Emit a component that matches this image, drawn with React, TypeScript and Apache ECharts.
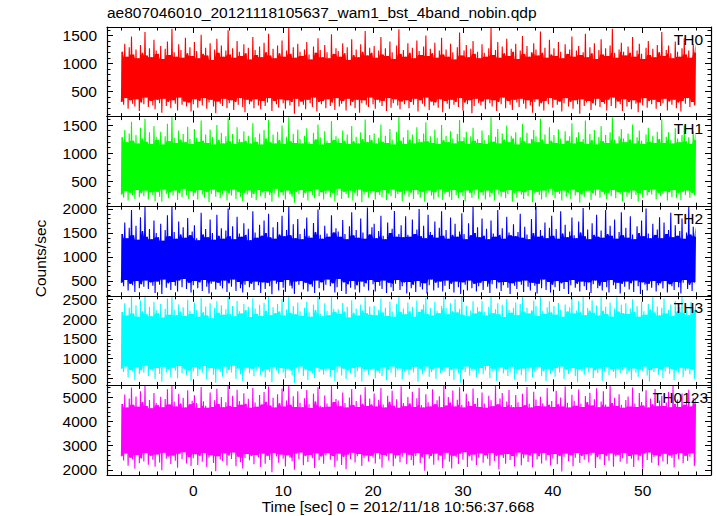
import React, { useEffect, useRef } from "react";
import * as echarts from "echarts";

// Light curves sampled every 0.125 s starting at t = -8 s
const T0 = -8;
const DT = 0.125;

const th0 = [
  310,1210,260,1350,380,1120,190,1290,340,1480,280,1160,230,1250,360,1090,150,1330,300,1190,270,1560,390,1140,220,1270,330,1110,250,1420,180,1230,
  350,1170,290,1310,120,1080,370,1260,240,1390,310,1150,200,1620,340,1200,280,1120,160,1340,390,1240,260,1100,320,1460,230,1180,300,1290,140,1130,
  270,1380,360,1220,210,1090,330,1510,250,1170,380,1280,190,1140,300,1360,350,1060,230,1250,110,1440,320,1190,280,1320,240,1120,370,1230,200,1590,
  290,1160,340,1270,170,1100,310,1400,260,1210,380,1130,220,1340,130,1180,350,1280,270,1070,320,1470,200,1240,360,1150,250,1300,180,1110,330,1370,
  240,1200,300,1530,380,1140,150,1260,330,1090,270,1320,210,1180,360,1410,290,1120,190,1230,340,1640,250,1170,310,1290,100,1100,370,1350,230,1210,
  320,1130,260,1250,180,1380,350,1160,290,1070,220,1300,390,1190,140,1450,310,1240,270,1110,330,1330,200,1200,360,1090,240,1520,300,1170,170,1270,
  380,1220,230,1120,280,1360,330,1180,160,1290,370,1060,250,1430,310,1150,200,1250,350,1110,120,1340,290,1210,340,1580,260,1140,220,1280,390,1190,
  270,1310,190,1100,350,1230,300,1470,240,1160,330,1270,150,1130,380,1390,210,1200,290,1080,360,1320,250,1610,180,1170,320,1240,270,1120,340,1360,
  200,1190,310,1280,260,1090,370,1410,140,1220,340,1150,280,1300,230,1500,390,1130,170,1260,320,1180,250,1370,300,1100,210,1230,360,1460,130,1160,
  330,1250,280,1120,190,1350,350,1200,260,1070,310,1290,220,1550,380,1140,160,1230,300,1330,270,1110,340,1260,110,1400,240,1170,370,1210,290,1090,
  250,1340,320,1190,180,1120,360,1270,290,1630,230,1150,340,1240,150,1380,310,1100,270,1300,390,1180,200,1440,330,1130,260,1260,170,1210,350,1350,
  300,1080,220,1230,370,1490,280,1170,190,1310,340,1120,250,1200,120,1360,310,1250,360,1140,230,1570,290,1190,160,1280,330,1100,270,1420,380,1160,
  210,1270,350,1130,260,1380,320,1210,140,1090,290,1340,380,1170,230,1250,310,1480,190,1120,340,1230,270,1310,100,1150,360,1200,240,1530,300,1110,
  330,1290,170,1180,290,1360,250,1080,370,1240,220,1430,310,1160,280,1270,160,1130,350,1320,240,1620,390,1190,200,1100,320,1250,270,1370,150,1210,
  360,1140,230,1300,310,1190,180,1470,340,1120,280,1230,130,1350,300,1170,250,1080,380,1280,210,1400,330,1150,270,1260,350,1110,190,1330,310,1200,
  240,1560,290,1130,370,1240,160,1320,320,1180,260,1090,350,1390,200,1210,300,1120,140,1270,330,1450,280,1160,380,1230,220,1100,310,1340,250,1190
];

const th1 = [
  260,1280,200,1410,320,1190,150,1350,290,1560,240,1220,180,1320,340,1170,210,1450,280,1260,230,1610,330,1200,170,1370,300,1160,250,1480,140,1290,
  310,1230,220,1380,130,1150,350,1300,270,1520,190,1210,300,1650,240,1270,330,1180,160,1400,280,1240,210,1340,360,1190,250,1470,180,1250,320,1160,
  230,1430,290,1270,170,1200,340,1580,260,1220,200,1330,310,1180,120,1420,270,1290,350,1150,220,1500,300,1230,190,1360,260,1170,330,1300,150,1620,
  280,1210,240,1340,350,1160,180,1460,310,1250,220,1190,140,1390,290,1220,260,1310,330,1170,200,1530,270,1280,160,1200,340,1350,230,1150,300,1410,
  190,1260,320,1590,250,1190,130,1330,280,1170,360,1380,210,1230,300,1490,240,1160,170,1290,330,1640,260,1210,220,1340,110,1180,310,1420,270,1250,
  340,1170,200,1310,280,1440,150,1200,320,1160,250,1360,190,1240,350,1510,230,1280,300,1150,170,1390,270,1220,330,1180,210,1570,290,1230,140,1300,
  240,1260,360,1180,180,1400,310,1220,270,1330,200,1160,330,1480,150,1210,290,1290,230,1170,350,1370,120,1250,260,1600,310,1190,200,1320,280,1230,
  320,1350,170,1170,300,1270,250,1510,210,1200,340,1310,160,1180,280,1430,230,1240,350,1150,190,1380,270,1650,310,1220,140,1280,260,1160,330,1410,
  220,1240,290,1330,180,1170,340,1460,260,1250,200,1190,310,1350,130,1550,280,1210,330,1300,240,1180,170,1420,300,1270,210,1160,350,1500,160,1230,
  270,1310,310,1190,220,1390,160,1260,340,1170,250,1340,190,1590,300,1210,230,1280,140,1380,330,1160,280,1300,200,1450,260,1220,350,1250,180,1180,
  300,1400,240,1230,170,1160,330,1320,210,1640,280,1200,150,1290,350,1430,260,1170,220,1350,310,1240,190,1490,270,1190,340,1310,130,1260,290,1370,
  200,1150,320,1280,260,1520,180,1210,300,1360,230,1170,340,1250,120,1410,280,1300,310,1190,250,1610,170,1240,330,1330,210,1160,290,1460,360,1220,
  250,1320,190,1180,310,1420,270,1260,150,1160,330,1390,220,1220,290,1300,180,1530,350,1170,240,1280,300,1370,110,1200,260,1250,210,1580,320,1160,
  330,1340,160,1230,280,1410,240,1150,350,1290,200,1480,310,1210,260,1320,170,1180,290,1370,230,1640,340,1240,190,1170,300,1300,270,1430,140,1260,
  310,1190,220,1350,290,1240,180,1510,330,1170,250,1280,130,1400,280,1220,200,1160,340,1330,240,1450,300,1200,260,1310,350,1180,170,1380,290,1250,
  230,1600,270,1180,320,1290,150,1370,300,1230,210,1170,340,1440,190,1260,280,1190,160,1320,310,1490,250,1210,330,1280,200,1160,290,1390,240,1230
];

const th2 = [
  460,1480,390,1720,520,1390,300,1610,440,1980,410,1450,270,1650,500,1360,350,1830,430,1540,380,2040,510,1420,330,1580,470,1370,400,1760,250,1500,
  490,1410,420,1690,230,1340,530,1560,360,1870,450,1430,310,2050,480,1520,400,1380,280,1740,510,1470,370,1620,540,1400,330,1810,460,1450,260,1530,
  410,1660,500,1390,350,1350,470,1920,290,1470,520,1580,380,1410,240,1780,440,1500,490,1360,320,1880,460,1440,400,1600,340,1380,510,1550,270,2010,
  450,1430,380,1640,530,1370,290,1840,480,1490,350,1420,260,1700,420,1460,500,1590,370,1350,440,1950,310,1510,490,1400,410,1670,250,1440,470,1760,
  330,1500,460,1900,390,1410,220,1620,510,1380,440,1730,300,1470,480,1860,360,1430,270,1560,520,2060,400,1450,340,1680,230,1390,490,1790,420,1480,
  500,1370,320,1590,460,1820,280,1440,430,1400,380,1710,250,1520,510,1990,350,1460,470,1380,300,1650,420,1490,530,1420,390,1870,450,1510,260,1600,
  370,1530,540,1420,290,1770,470,1480,230,1370,430,1640,360,1930,500,1450,320,1560,410,1400,260,1800,490,1510,380,1380,450,2030,300,1470,520,1620,
  430,1690,280,1390,480,1540,400,1860,330,1440,510,1370,250,1720,460,1500,370,1590,290,1960,440,1420,520,1480,310,1660,390,1410,470,1850,240,1460,
  480,1420,350,1780,420,1480,270,1570,500,2000,380,1430,320,1650,450,1390,240,1880,410,1520,530,1460,300,1740,460,1400,360,1610,490,1950,280,1440,
  400,1560,510,1380,330,1820,440,1460,260,1690,490,1420,370,1530,230,1910,470,1480,420,1370,300,1700,510,1450,350,2040,440,1500,280,1620,390,1410,
  460,1800,310,1440,500,1590,380,1370,250,1760,430,1490,520,1420,340,1980,470,1460,290,1600,410,1380,480,1840,360,1510,230,1450,450,1680,400,1430,
  330,1520,490,1900,420,1400,270,1630,510,1470,380,1370,300,1790,460,1500,400,2050,240,1420,440,1560,350,1440,530,1720,310,1390,480,1610,260,1860,
  420,1440,370,1580,500,1380,290,1950,450,1490,330,1670,480,1410,230,1530,410,1820,520,1450,360,1390,440,1740,280,1510,490,2020,390,1430,310,1570,
  470,1370,250,1700,430,1460,510,1880,350,1420,400,1550,300,1400,480,1980,370,1480,260,1650,520,1440,410,1780,330,1380,460,1520,240,1930,440,1450,
  380,1610,490,1400,320,1850,450,1470,270,1370,510,1640,390,1500,230,1760,470,1430,420,2010,300,1490,440,1390,360,1690,500,1460,280,1570,410,1830,
  450,1390,340,1720,500,1480,260,1560,430,1920,390,1410,310,1660,480,1440,370,1540,240,1800,460,1380,520,1510,330,2040,420,1470,290,1630,470,1420
];

const th3 = [
  740,2180,660,2400,800,2090,520,2290,710,2560,680,2140,450,2350,780,2060,600,2470,700,2200,640,2590,820,2120,560,2310,730,2070,690,2430,480,2230,
  760,2150,610,2380,410,2040,790,2260,650,2520,720,2110,530,2580,770,2240,690,2100,500,2370,810,2190,630,2300,740,2080,580,2490,700,2210,440,2130,
  670,2420,780,2230,560,2060,720,2540,640,2170,810,2320,470,2090,700,2400,760,2020,590,2280,390,2450,740,2160,660,2350,540,2110,800,2250,620,2570,
  710,2120,650,2330,820,2070,480,2460,750,2200,600,2140,430,2390,690,2230,770,2310,630,2050,740,2530,550,2270,700,2130,800,2360,580,2080,680,2410,
  520,2210,730,2580,660,2100,400,2300,790,2150,700,2380,610,2190,760,2500,650,2090,500,2240,740,2590,690,2160,580,2330,380,2120,770,2420,640,2200,
  800,2080,560,2290,720,2440,460,2170,690,2060,620,2360,510,2230,770,2550,660,2140,730,2070,590,2400,680,2210,750,2100,540,2570,710,2260,430,2180,
  650,2250,800,2130,570,2410,740,2190,480,2310,700,2040,620,2480,760,2160,530,2270,680,2090,790,2370,420,2220,660,2560,730,2150,590,2320,710,2110,
  740,2340,500,2100,690,2230,620,2520,560,2170,780,2290,450,2080,710,2440,640,2200,800,2060,530,2390,700,2590,750,2180,470,2270,670,2120,730,2420,
  590,2200,720,2310,650,2060,790,2470,410,2180,740,2250,600,2370,690,2540,800,2130,540,2280,660,2090,730,2430,480,2210,770,2150,630,2330,700,2560,
  680,2280,780,2120,550,2400,710,2200,460,2500,750,2170,630,2260,390,2580,720,2110,660,2340,800,2070,570,2220,690,2450,740,2140,520,2300,640,2190,
  760,2460,600,2180,700,2090,810,2310,500,2580,670,2150,740,2250,440,2400,690,2120,780,2360,620,2050,730,2510,560,2230,650,2160,800,2290,470,2420,
  630,2100,720,2380,580,2560,750,2190,410,2290,690,2140,770,2220,520,2470,660,2340,710,2080,790,2590,550,2210,680,2130,430,2300,740,2450,610,2170,
  700,2330,540,2110,760,2410,650,2240,800,2060,480,2370,720,2190,610,2300,690,2530,760,2140,560,2220,400,2460,730,2170,670,2580,590,2100,780,2280,
  650,2220,770,2480,510,2160,700,2350,630,2090,750,2550,440,2210,680,2310,790,2130,580,2420,720,2060,660,2270,500,2590,740,2190,620,2360,710,2150,
  780,2400,600,2130,690,2270,460,2500,750,2180,640,2330,540,2060,730,2440,680,2200,800,2110,570,2380,420,2250,710,2560,660,2170,760,2320,590,2090,
  720,2290,500,2520,670,2140,790,2230,610,2370,730,2080,450,2460,700,2190,640,2310,770,2560,530,2160,690,2250,750,2100,600,2430,720,2200,480,2340
];

const th0123 = [
  2560,4720,2390,5110,2680,4580,2170,4950,2500,5400,2430,4690,2050,5030,2620,4610,2280,5250,2470,4800,2350,5470,2700,4640,2210,4890,2590,4550,2420,5180,2130,4760,
  2640,4670,2310,5020,1990,4590,2710,4930,2460,5330,2550,4700,2240,5490,2600,4820,2380,4620,2090,5140,2670,4740,2440,4980,2730,4580,2270,5290,2530,4710,2160,4860,
  2480,5080,2650,4760,2200,4560,2580,5420,2340,4830,2700,4650,2110,4570,2510,5200,2610,4600,2290,4880,1950,5350,2560,4720,2430,5010,2370,4590,2690,4790,2180,5460,
  2600,4640,2450,5060,2720,4600,2150,5310,2540,4850,2320,4690,2060,5170,2490,4730,2660,4940,2400,4570,2580,5380,2230,4780,2620,4610,2510,5090,2120,4700,2680,5220,
  2260,4810,2590,5440,2410,4660,1900,4980,2700,4580,2550,5120,2300,4750,2640,5360,2460,4620,2140,4870,2610,5480,2500,4690,2360,5040,2010,4600,2680,5250,2440,4770,
  2720,4590,2190,4960,2570,5300,2330,4710,2620,4560,2480,5150,2080,4820,2690,5410,2400,4650,2550,4590,2250,5070,2600,4740,2700,4610,2420,5460,2570,4800,2110,4930,
  2380,4870,2680,4630,2200,5200,2530,4760,2030,4580,2640,4990,2450,5340,2710,4680,2310,4850,2560,4600,2660,5100,2160,4730,2490,5420,2600,4640,2350,4950,2580,4700,
  2500,5160,2270,4620,2700,4900,2440,5380,2090,4700,2620,4580,2560,5060,2380,4810,2690,5270,2150,4650,2470,4920,2610,4570,2320,5450,2540,4760,2710,4630,2230,5010,
  2630,4740,2410,5230,2180,4600,2580,4960,2700,5390,2290,4680,2520,4580,1970,5120,2650,4790,2460,4620,2570,5330,2210,4710,2680,4880,2390,5040,2600,4590,2070,5480,
  2450,4660,2710,5010,2340,4780,2060,5280,2590,4620,2530,4900,2240,5410,2670,4690,2420,4580,2730,5150,2120,4830,2560,4640,2380,5360,2640,4720,2200,4970,2510,4600,
  2690,5200,2300,4740,2610,4570,2460,5060,2170,4880,2700,4630,2370,5470,2580,4710,2020,4950,2630,5180,2490,4600,2250,4820,2660,5300,2410,4680,2570,4590,2140,5090,
  2550,4790,2720,4600,2190,5140,2480,4670,2640,5420,2330,4730,2600,4580,2100,5230,2690,4910,2430,4640,2560,5020,2270,4750,2700,4620,2390,5380,2620,4690,2180,4850,
  2470,4600,2660,5270,2230,4710,2590,4990,1940,4620,2540,5440,2680,4770,2360,4580,2610,5100,2150,4860,2500,4650,2700,5320,2290,4730,2570,4600,2420,5050,2650,4800,
  2310,5190,2600,4660,2710,4920,2080,5370,2520,4590,2440,4820,2660,5250,2200,4700,2580,4610,2380,5460,2690,4760,2130,4980,2550,4640,2630,5120,2340,4690,2480,4570,
  2700,4890,2260,5030,2570,4620,2460,5400,2120,4740,2640,4600,2390,5180,2590,4800,2050,4660,2680,5290,2410,4580,2720,4950,2300,4710,2530,5340,2610,4630,2180,4870,
  2560,5060,2350,4640,2670,4780,2230,5220,2600,4590,2490,5470,2100,4720,2650,4910,2440,4600,2700,5150,2280,4690,2590,4840,2370,5310,2540,4620,2690,4980,2160,4730
];

const panelNames = ["TH0", "TH1", "TH2", "TH3", "TH0123"];
const panelColors = ["#ff0000", "#00ff00", "#0000ff", "#00ffff", "#ff00ff"];
const panelData = [th0, th1, th2, th3, th0123];
const yMins = [50, 50, 190, 320, 1790];
const yMaxs = [1650, 1650, 2058, 2590, 5490];
const ySplits = [3, 3, 3, 4, 3];
const xMin = -9.6;
const xMax = 57.6;

const titleText = "ae807046010_20121118105637_wam1_bst_4band_nobin.qdp";
const xTitle = "Time [sec] 0 = 2012/11/18 10:56:37.668";
const yTitle = "Counts/sec";

const FONT = "'Liberation Sans', Arial, Helvetica, sans-serif";
const FS = 15.5;

// Dense core of each light curve: the range crossed by every neighbouring excursion
function coreBand(vals: number[]) {
  const n = vals.length;
  const upper: number[][] = [];
  const lower: number[][] = [];
  for (let k = 0; k < n; k++) {
    const a = Math.max(0, k - 2);
    const b = Math.min(n, k + 4);
    const w = vals.slice(a, b).sort((x, y) => x - y);
    const m = w.length;
    const half = Math.floor(m / 2);
    const t = T0 + DT * k;
    upper.push([t, w[m - half]]);
    lower.push([t, w[half - 1]]);
  }
  return { upper, lower };
}

export default function App() {
  const ref = useRef<HTMLDivElement>(null);
  useEffect(() => {
    if (!ref.current) return;
    const chart = echarts.init(ref.current, undefined, { renderer: "svg" });
    const left = 107;
    const right = 711;
    const top = 27;
    const h = 89.6;
    const grids: any[] = [];
    const xAxes: any[] = [];
    const yAxes: any[] = [];
    const series: any[] = [];
    const graphics: any[] = [];
    const axisLine = { show: true, onZero: false, lineStyle: { color: "#000", width: 1.2 } };
    const tick = { show: true, inside: true, length: 6, lineStyle: { color: "#000", width: 1 } };
    const minor = { show: true, splitNumber: 5, length: 3.5, lineStyle: { color: "#000", width: 1 } };
    const fmt = (v: number) => String(Math.round(v));
    for (let i = 0; i < 5; i++) {
      grids.push({ left, top: top + i * h, width: right - left, height: h, containLabel: false });
      const xBase = {
        type: "value",
        gridIndex: i,
        min: xMin,
        max: xMax,
        splitNumber: 7,
        axisLine,
        axisTick: tick,
        minorTick: minor,
        splitLine: { show: false },
        minorSplitLine: { show: false },
        z: 5,
      };
      xAxes.push({
        ...xBase,
        position: "bottom",
        axisLabel: {
          show: i === 4,
          showMinLabel: false,
          showMaxLabel: false,
          color: "#000",
          fontSize: FS,
          fontFamily: FONT,
          margin: 7,
          formatter: fmt,
        },
      });
      xAxes.push({ ...xBase, position: "top", axisLabel: { show: false } });
      const yBase = {
        type: "value",
        gridIndex: i,
        min: yMins[i],
        max: yMaxs[i],
        splitNumber: ySplits[i],
        axisLine,
        axisTick: tick,
        minorTick: minor,
        splitLine: { show: false },
        minorSplitLine: { show: false },
        z: 5,
      };
      yAxes.push({
        ...yBase,
        position: "left",
        axisLabel: {
          show: true,
          showMinLabel: false,
          showMaxLabel: false,
          color: "#000",
          fontSize: FS,
          fontFamily: FONT,
          margin: 10,
          formatter: fmt,
        },
      });
      yAxes.push({ ...yBase, position: "right", axisLabel: { show: false } });

      const band = coreBand(panelData[i]);
      const color = panelColors[i];
      series.push({
        type: "custom",
        coordinateSystem: "cartesian2d",
        xAxisIndex: 2 * i,
        yAxisIndex: 2 * i,
        data: [[band.upper[0][0], band.upper[0][1]]],
        clip: true,
        silent: true,
        z: 1,
        renderItem: (_params: any, api: any) => {
          const pts: number[][] = [];
          band.upper.forEach((p) => pts.push(api.coord(p)));
          for (let k = band.lower.length - 1; k >= 0; k--) pts.push(api.coord(band.lower[k]));
          return {
            type: "polygon",
            shape: { points: pts },
            style: { fill: color, stroke: null },
          };
        },
      });
      series.push({
        type: "line",
        xAxisIndex: 2 * i,
        yAxisIndex: 2 * i,
        data: panelData[i].map((v, k) => [T0 + DT * k, v]),
        showSymbol: false,
        symbol: "none",
        clip: true,
        lineStyle: { color, width: 1.1 },
        itemStyle: { color },
        z: 2,
      });
      graphics.push({
        type: "text",
        right: i === 4 ? 717 - 708 : 717 - 703,
        top: top + i * h + 4,
        style: { text: panelNames[i], fill: "#000", font: `${FS}px ${FONT}` },
        z: 10,
      });
    }
    graphics.push({
      type: "text",
      left: 107,
      top: 4,
      style: { text: titleText, fill: "#000", font: `${FS}px ${FONT}` },
    });
    graphics.push({
      type: "text",
      x: 398,
      y: 506,
      style: { text: xTitle, fill: "#000", font: `${FS}px ${FONT}`, textAlign: "center", textVerticalAlign: "middle" },
    });
    graphics.push({
      type: "text",
      x: 40.5,
      y: 258.5,
      rotation: Math.PI / 2,
      style: { text: yTitle, fill: "#000", font: `${FS}px ${FONT}`, textAlign: "center", textVerticalAlign: "middle" },
    });
    chart.setOption({
      animation: false,
      backgroundColor: "#fff",
      grid: grids,
      xAxis: xAxes,
      yAxis: yAxes,
      series,
      graphic: graphics,
    });
    return () => chart.dispose();
  }, []);
  return (
    <div
      ref={ref}
      style={{ position: "fixed", left: 0, top: 0, width: 717, height: 516 }}
    />
  );
}
